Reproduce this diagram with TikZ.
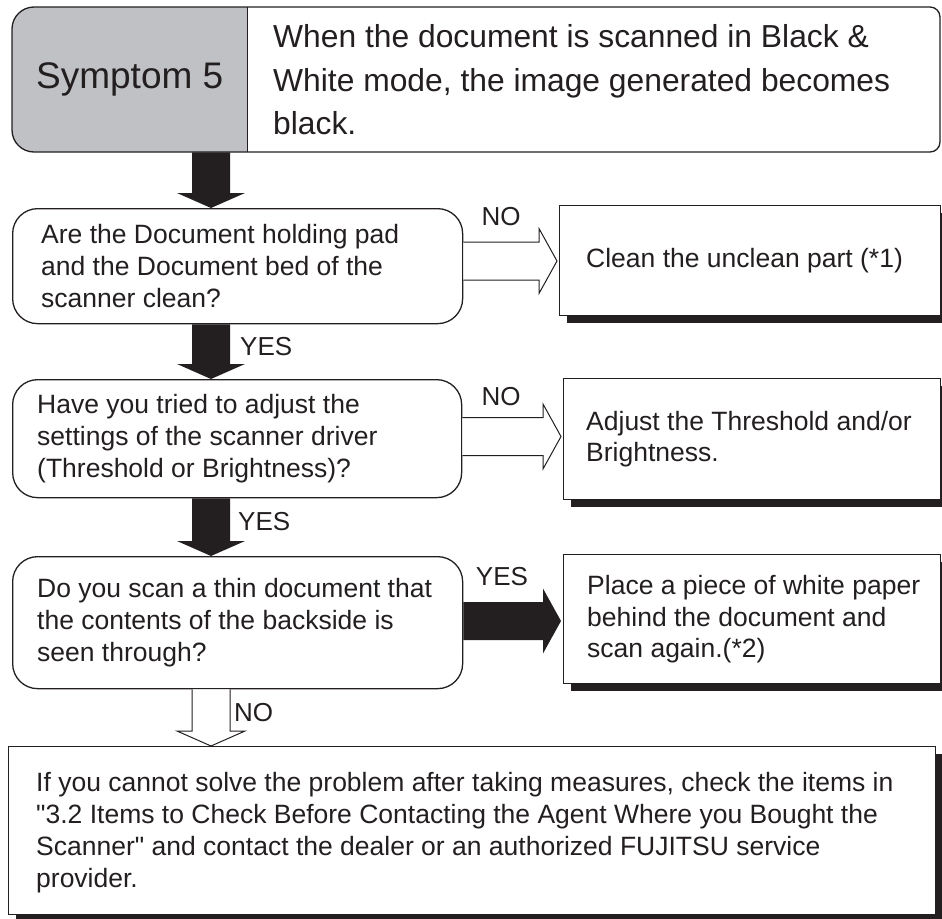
\documentclass[tikz,border=0pt]{standalone}
\usepackage{fontspec}
\setmainfont{Liberation Sans}
\usetikzlibrary{calc,shadows}
\definecolor{ink}{RGB}{35,31,32}
\definecolor{symgray}{RGB}{192,193,197}
\tikzset{
 outline/.style={draw=ink, line width=1.3pt},
 qbox/.style={outline, rounded corners=25pt, fill=white, inner sep=0pt, anchor=north west},
 abox/.style={outline, fill=white, inner sep=0pt, anchor=north west,
   drop shadow={shadow xshift=7pt, shadow yshift=-7pt, fill=ink, draw=none, opacity=1}},
 bodytext/.style={text=ink, inner sep=0pt, anchor=west, align=left, font=\fontsize{26.5}{31.7}\selectfont},
 lbl/.style={text=ink, inner sep=0pt, font=\fontsize{26}{30}\selectfont},
 solidarrow/.style={fill=ink},
 hollowarrow/.style={draw=ink, line width=1pt, fill=white, line join=miter},
}
\newcommand\FlowDownArrow[3]{%
  \path[#1] let \p1=#2, \p2=#3 in
   (\x1-19pt,\y1) -- (\x1-19pt,\y2+15pt) -- (\x1-34pt,\y2+15pt) -- (\x1,\y2)
   -- (\x1+34pt,\y2+15pt) -- (\x1+19pt,\y2+15pt) -- (\x1+19pt,\y1);}
\newcommand\FlowRightArrow[3]{%
  \path[#1] let \p1=#2, \p2=#3 in
   (\x1,\y1+19pt) -- (\x2-20pt,\y1+19pt) -- (\x2-20pt,\y1+32.5pt) -- (\x2-2pt,\y1)
   -- (\x2-20pt,\y1-32.5pt) -- (\x2-20pt,\y1-19pt) -- (\x1,\y1-19pt);}
\begin{document}
\begin{tikzpicture}[x=1pt,y=1pt]
\useasboundingbox (0,0) rectangle (942,-918);
\fill[white] (0,0) rectangle (942,-918);

% header
\fill[symgray] (247,-7) -- (34,-7) arc[start angle=90,end angle=180,radius=22pt]
  -- (12,-130) arc[start angle=180,end angle=270,radius=22pt] -- (247,-152) -- cycle;
\node[anchor=north west, minimum width=235pt, minimum height=145pt, inner sep=0pt,
  text=ink, font=\fontsize{37}{44}\selectfont] (sym) at (12,-7) {Symptom 5};
\node[anchor=west, inner sep=0pt, align=left, text=ink, font=\fontsize{31.8}{43.5}\selectfont]
  (desc) at (273,-80) {When the document is scanned in Black \&\\White mode, the image generated becomes\\black.};
\draw[outline] (34,-7) -- (930,-7) arc[start angle=90,end angle=0,radius=10pt]
  -- (940,-142) arc[start angle=0,end angle=-90,radius=10pt]
  -- (34,-152) arc[start angle=270,end angle=180,radius=22pt]
  -- (12,-29) arc[start angle=180,end angle=90,radius=22pt] -- cycle;
\draw[outline] (sym.north east) -- (sym.south east);

% question boxes
\node[qbox, minimum width=450pt, minimum height=115pt] (q1) at (12,-208) {};
\node[bodytext] (q1t) at ([xshift=29pt]q1.west) {Are the Document holding pad\\and the Document bed of the\\scanner clean?};
\node[qbox, minimum width=449pt, minimum height=118pt] (q2) at (12,-379) {};
\node[bodytext] (q2t) at ([xshift=25pt]q2.west) {Have you tried to adjust the\\settings of the scanner driver\\(Threshold or Brightness)?};
\node[qbox, minimum width=450pt, minimum height=132pt] (q3) at (12,-556) {};
\node[bodytext] (q3t) at ([xshift=25pt]q3.west) {Do you scan a thin document that\\the contents of the backside is\\seen through?};

% answer boxes
\node[abox, minimum width=381pt, minimum height=110pt] (a1) at (559,-205) {};
\node[bodytext] (a1t) at ([xshift=27pt]a1.west) {Clean the unclean part (*1)};
\node[abox, minimum width=377pt, minimum height=121pt] (a2) at (563,-378) {};
\node[bodytext] (a2t) at ([xshift=23pt]a2.west) {Adjust the Threshold and/or\\Brightness.};
\node[abox, minimum width=377pt, minimum height=129pt] (a3) at (563,-554) {};
\node[bodytext] (a3t) at ([xshift=24pt]a3.west) {Place a piece of white paper\\behind the document and\\scan again.(*2)};
\node[abox, minimum width=927pt, minimum height=168pt] (fin) at (8,-746) {};
\node[bodytext] (fint) at ([xshift=28pt,yshift=-2pt]fin.west) {If you cannot solve the problem after taking measures, check the items in\\\textquotedbl 3.2 Items to Check Before Contacting the Agent Where you Bought the\\Scanner\textquotedbl{} and contact the dealer or an authorized FUJITSU service\\provider.};

% connectors
\coordinate (ax) at (211,0);
\FlowDownArrow{solidarrow}{(sym.south -| ax)}{(q1.north -| ax)}
\FlowDownArrow{solidarrow}{(q1.south -| ax)}{(q2.north -| ax)}
\FlowDownArrow{solidarrow}{(q2.south -| ax)}{(q3.north -| ax)}
\FlowDownArrow{hollowarrow}{(q3.south -| ax)}{(fin.north -| ax)}

\coordinate (n1) at (0,-261);
\coordinate (n2) at (0,-436.5);
\coordinate (n3) at (0,-621);
\FlowRightArrow{hollowarrow}{(q1.east |- n1)}{(a1.west |- n1)}
\FlowRightArrow{hollowarrow}{(q2.east |- n2)}{(a2.west |- n2)}
\FlowRightArrow{solidarrow}{(q3.east |- n3)}{(a3.west |- n3)}

% labels
\node[lbl] (lno1) at (501,-217) {NO};
\node[lbl] (lno2) at (501,-397) {NO};
\node[lbl] (lyes3) at (502,-577) {YES};
\node[lbl, anchor=west] (lyes1) at (240,-347) {YES};
\node[lbl, anchor=west] (lyes2) at (238,-522) {YES};
\node[lbl, anchor=west] (lno3) at (234,-713) {NO};
\end{tikzpicture}
\end{document}
